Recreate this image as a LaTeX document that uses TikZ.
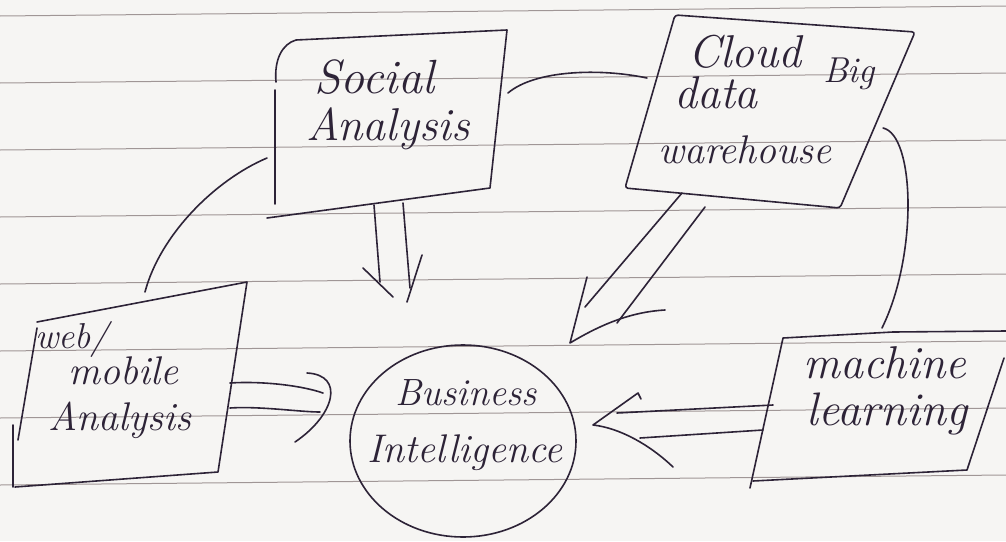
\documentclass[tikz,border=0pt]{standalone}
\usepackage{fontspec}
\usetikzlibrary{shapes.geometric}
\definecolor{paperc}{RGB}{246,245,243}
\definecolor{rulec}{RGB}{160,150,150}
\definecolor{inkc}{RGB}{45,35,55}
\tikzset{
  pen/.style={draw=inkc, line width=1.6pt, line cap=round, line join=round},
  ruling/.style={draw=rulec, line width=1pt},
  hand/.style={text=inkc, inner sep=0pt, anchor=base,
    font=\fontsize{#1pt}{#1pt}\selectfont\itshape},
}
\begin{document}
\begin{tikzpicture}[x=1pt,y=-1pt]
\fill[paperc] (0,0) rectangle (1006,541);
\useasboundingbox (0,0) rectangle (1006,541);

% ruled notebook lines
\foreach \k in {0,...,7}
  \draw[ruling] (0,16+67*\k) -- (1006,6+67*\k);

% ---- Social Analysis box
\draw[pen] (276,82) .. controls (274,60) and (282,44) .. (296,40)
  -- (507,30) -- (490,188) -- (267,218);
\draw[pen] (275,90) -- (275,204);
\node[hand=48] (sa1) at (374,93) {Social};
\node[hand=46] (sa2) at (388,140) {Analysis};

% ---- Cloud Big data warehouse box
\draw[pen, rounded corners=3pt] (675,15) -- (915,32) -- (840,208) -- (625,188) -- cycle;
\node[hand=46] (cb1) at (745,67) {Cloud};
\node[hand=36] (cb2) at (849,82) {Big};
\node[hand=46] (cb3) at (716,108) {data};
\node[hand=40] (cb4) at (745,163) {warehouse};

% ---- web/mobile Analysis box
\draw[pen] (37,322) -- (247,282) -- (218,472) -- (15,487);
\draw[pen] (37,328) -- (18,440);
\draw[pen] (13,425) -- (13,487);
\node[hand=36] (wm1) at (72,348) {web/};
\node[hand=40] (wm2) at (123,384) {mobile};
\node[hand=40] (wm3) at (120,430) {Analysis};

% ---- Business Intelligence circle
\node[pen, ellipse, minimum width=226pt, minimum height=192pt] (bi) at (463,441) {};
\node[hand=38] (bi1) at (466,405) {Business};
\node[hand=40] (bi2) at (465,462) {Intelligence};

% ---- machine learning box
\draw[pen] (1006,331) -- (893,332) -- (783,338) -- (750,488);
\draw[pen] (1004,358) -- (967,470) -- (753,481);
\node[hand=46] (ml1) at (885,378) {machine};
\node[hand=47] (ml2) at (887,425) {learning};

% ---- connector end points
\coordinate (saL) at (267,158);
\coordinate (wmT) at (145,292);
\coordinate (saR) at (508,93);
\coordinate (cbL) at (647,78);
\coordinate (cbR) at (883,128);
\coordinate (mlT) at (882,328);

% plain links
\draw[pen] (saL) .. controls (215,180) and (160,235) .. (wmT);
\draw[pen] (saR) .. controls (535,70) and (600,68) .. (cbL);
\draw[pen] (cbR) .. controls (915,135) and (918,255) .. (mlT);

% Social Analysis => Business Intelligence
\coordinate (d1a) at (374,205); \coordinate (d1b) at (380,282);
\coordinate (d2a) at (403,203); \coordinate (d2b) at (410,288);
\coordinate (h1a) at (363,268); \coordinate (h1b) at (393,297);
\coordinate (h2a) at (422,255); \coordinate (h2b) at (407,302);
\draw[pen] (d1a) -- (d1b);
\draw[pen] (d2a) -- (d2b);
\draw[pen] (h1a) -- (h1b);
\draw[pen] (h2a) -- (h2b);

% Cloud warehouse => Business Intelligence
\coordinate (c1a) at (682,193); \coordinate (c1b) at (585,307);
\coordinate (c2a) at (705,207); \coordinate (c2b) at (617,323);
\coordinate (ctip) at (570,343);
\draw[pen] (c1a) -- (c1b);
\draw[pen] (c2a) -- (c2b);
\draw[pen] (587,277) -- (ctip) .. controls (600,325) and (630,312) .. (665,310);

% web/mobile => Business Intelligence
\coordinate (w1a) at (230,383); \coordinate (w1b) at (323,393);
\coordinate (w2a) at (230,408); \coordinate (w2b) at (320,412);
\draw[pen] (w1a) .. controls (260,381) and (300,385) .. (w1b);
\draw[pen] (w2a) .. controls (260,406) and (300,412) .. (w2b);
\draw[pen] (307,373) .. controls (345,375) and (335,415) .. (295,442);

% machine learning => Business Intelligence
\coordinate (m1a) at (773,405); \coordinate (m1b) at (617,413);
\coordinate (m2a) at (763,430); \coordinate (m2b) at (640,438);
\coordinate (mtip) at (593,425);
\draw[pen] (m1a) -- (m1b);
\draw[pen] (m2a) -- (m2b);
\draw[pen] (641,399) -- (638,393) -- (mtip) .. controls (620,428) and (650,445) .. (673,467);
\end{tikzpicture}
\end{document}
